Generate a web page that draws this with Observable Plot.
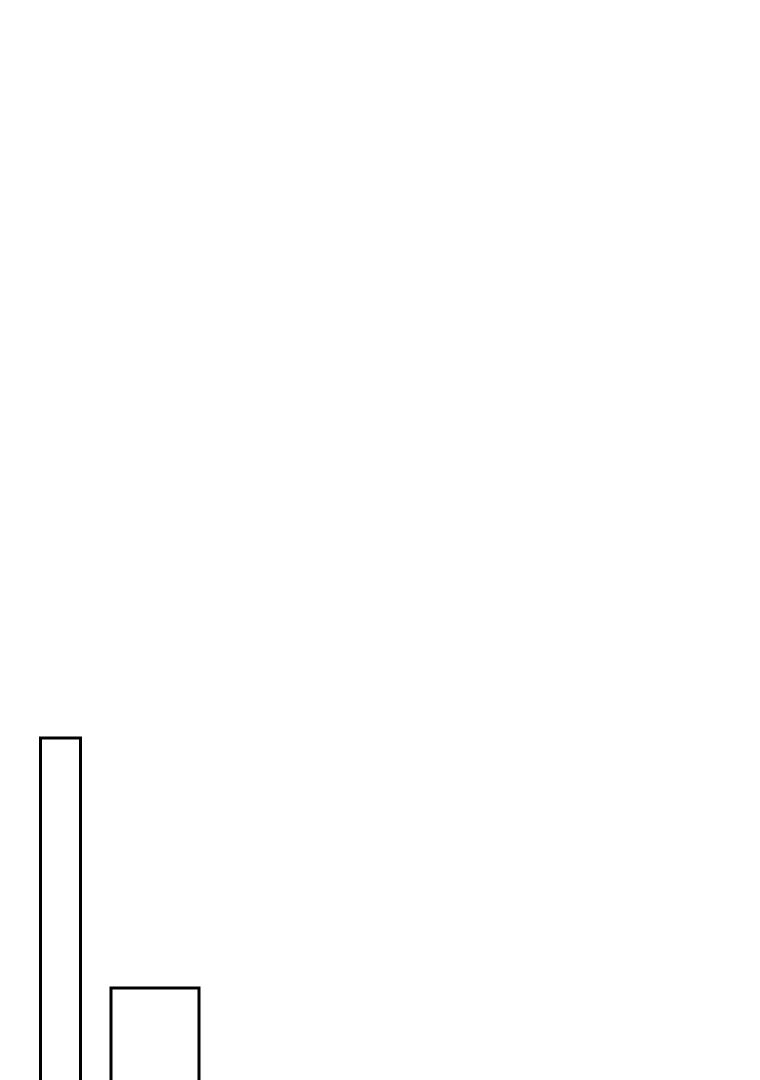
<!DOCTYPE html>
<html>
<head>
<meta charset="utf-8">
<script src="https://cdn.jsdelivr.net/npm/d3@7"></script>
<script src="https://cdn.jsdelivr.net/npm/@observablehq/plot@0.6"></script>
<style>
  html, body { margin: 0; padding: 0; background: #fff; overflow: hidden; }
</style>
</head>
<body>
<div id="chart"></div>
<script>
// Data (top level, small named arrays)
const categories = ["A", "B"];
const binStart = [0, 35.25];
const binEnd = [20, 79.25];
const values = [372, 122];

const data = categories.map((c, i) => ({
  category: c,
  x1: binStart[i],
  x2: binEnd[i],
  value: values[i]
}));

const chart = Plot.plot({
  width: 760,
  height: 1120,
  margin: 0,
  x: {domain: [0, 360], range: [40.5, 760.5], axis: null},
  y: {domain: [0, 1110], range: [1110, 0], axis: null},
  marks: [
    Plot.rectY(data, {
      x1: "x1",
      x2: "x2",
      y1: 0,
      y2: "value",
      fill: "none",
      stroke: "black",
      strokeWidth: 3
    })
  ]
});
document.getElementById("chart").appendChild(chart);
</script>
</body>
</html>
